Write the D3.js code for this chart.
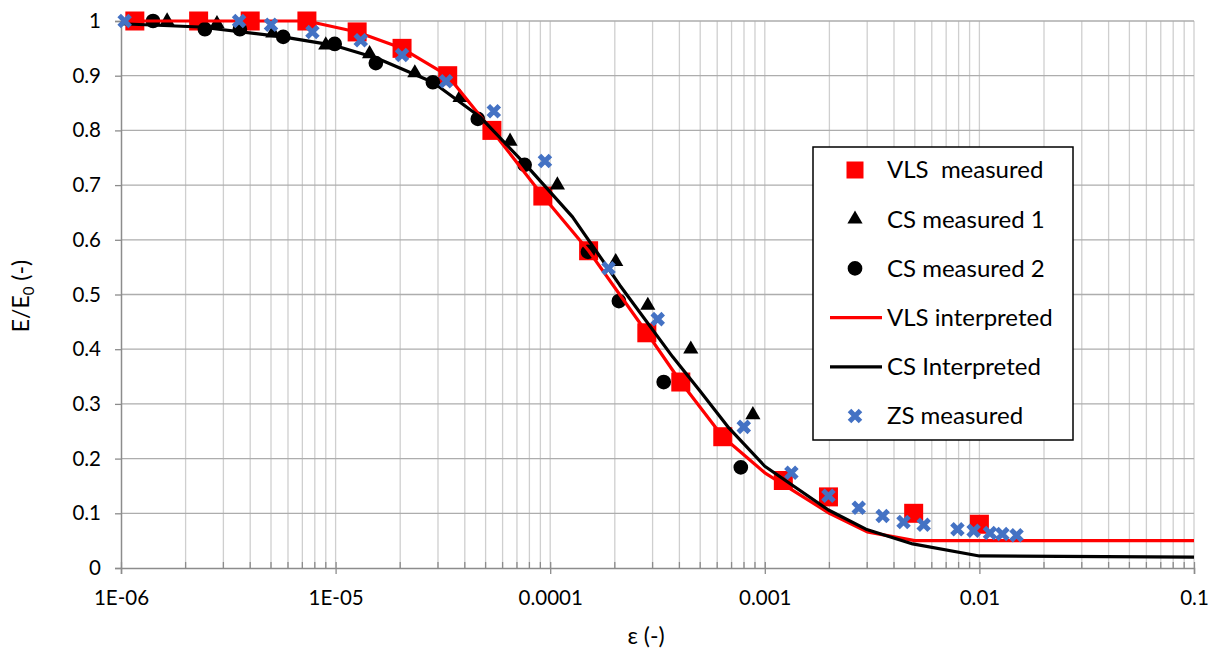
<!DOCTYPE html>
<html>
<head>
<meta charset="utf-8">
<script src="https://cdn.jsdelivr.net/npm/d3@7/dist/d3.min.js"></script>
<style>
  html, body { margin: 0; padding: 0; background: #fff; }
  svg { display: block; font-family: Lato, "Open Sans", sans-serif; }
</style>
</head>
<body>
<svg id="chart" width="1217" height="654"></svg>
<script>
// Stiffness degradation data: E/E0 vs. shear strain
const xTickValues = [1e-6, 1e-5, 1e-4, 1e-3, 1e-2, 1e-1];
const xTickLabels = ["1E-06", "1E-05", "0.0001", "0.001", "0.01", "0.1"];
const yTickValues = [0, 0.1, 0.2, 0.3, 0.4, 0.5, 0.6, 0.7, 0.8, 0.9, 1];
const yTickLabels = ["0", "0.1", "0.2", "0.3", "0.4", "0.5", "0.6", "0.7", "0.8", "0.9", "1"];

const vlsMeasuredX = [1.16e-6, 2.3e-6, 4.0e-6, 7.35e-6, 1.26e-5, 2.04e-5, 3.33e-5, 5.35e-5, 9.24e-5, 1.51e-4, 2.82e-4, 4.06e-4, 6.37e-4, 1.22e-3, 1.98e-3, 4.94e-3, 1.0e-2];
const vlsMeasuredY = [1.0, 1.0, 1.0, 1.0, 0.98, 0.95, 0.90, 0.80, 0.68, 0.58, 0.43, 0.34, 0.24, 0.16, 0.13, 0.10, 0.08];

const cs1X = [1.64e-6, 2.8e-6, 5.1e-6, 9.0e-6, 1.44e-5, 2.34e-5, 3.8e-5, 6.5e-5, 1.08e-4, 2.02e-4, 2.85e-4, 4.52e-4, 8.8e-4];
const cs1Y = [1.0, 0.995, 0.978, 0.956, 0.94, 0.905, 0.86, 0.78, 0.70, 0.56, 0.48, 0.40, 0.28];

const cs2X = [1.41e-6, 2.46e-6, 3.58e-6, 5.7e-6, 9.9e-6, 1.54e-5, 2.84e-5, 4.6e-5, 7.6e-5, 1.5e-4, 2.09e-4, 3.38e-4, 7.73e-4];
const cs2Y = [1.0, 0.985, 0.985, 0.971, 0.958, 0.923, 0.888, 0.821, 0.737, 0.578, 0.488, 0.34, 0.184];

const vlsInterpX = [1e-6, 7.35e-6, 1.26e-5, 2.04e-5, 3.33e-5, 5.35e-5, 9.24e-5, 1.51e-4, 2.82e-4, 4.06e-4, 6.37e-4, 1.0e-3, 2.0e-3, 3.0e-3, 5.0e-3, 0.1];
const vlsInterpY = [1.0, 1.0, 0.98, 0.95, 0.90, 0.80, 0.68, 0.58, 0.43, 0.34, 0.24, 0.174, 0.10, 0.066, 0.05, 0.05];

const csInterpX = [1e-6, 2.33e-6, 5.68e-6, 9.7e-6, 1.56e-5, 2.84e-5, 4.7e-5, 7.7e-5, 1.27e-4, 2.11e-4, 3.72e-4, 4.98e-4, 6.8e-4, 1.0e-3, 1.98e-3, 2.96e-3, 4.89e-3, 1.0e-2, 0.1];
const csInterpY = [0.995, 0.989, 0.971, 0.956, 0.932, 0.888, 0.825, 0.737, 0.642, 0.517, 0.386, 0.324, 0.256, 0.186, 0.106, 0.071, 0.044, 0.022, 0.02];

const zsX = [1.04e-6, 3.55e-6, 5.0e-6, 7.8e-6, 1.31e-5, 2.04e-5, 3.27e-5, 5.46e-5, 9.45e-5, 1.87e-4, 3.17e-4, 7.98e-4, 1.33e-3, 1.98e-3, 2.74e-3, 3.54e-3, 4.43e-3, 5.5e-3, 7.9e-3, 9.4e-3, 1.12e-2, 1.28e-2, 1.49e-2];
const zsY = [1.0, 1.0, 0.993, 0.98, 0.965, 0.938, 0.89, 0.835, 0.744, 0.548, 0.455, 0.258, 0.174, 0.132, 0.11, 0.095, 0.084, 0.079, 0.071, 0.068, 0.064, 0.062, 0.06];

const legendLabels = ["VLS  measured", "CS measured 1", "CS measured 2", "VLS interpreted", "CS Interpreted", "ZS measured"];

const zip = (xs, ys) => xs.map((v, i) => ({ x: v, y: ys[i] }));

const svg = d3.select("#chart");
const plotLeft = 121, plotRight = 1194, plotTop = 21, plotBottom = 568;

const x = d3.scaleLog().domain([1e-6, 0.1]).range([plotLeft, plotRight]);
const y = d3.scaleLinear().domain([0, 1]).range([plotBottom, plotTop]);

// minor vertical grid: every 1..9 x 10^n
const minorX = [];
for (let e = -6; e < -1; e++) for (let k = 1; k <= 9; k++) minorX.push(k * Math.pow(10, e));
minorX.push(0.1);

const grid = svg.append("g");
grid.selectAll("line.v").data(minorX.slice(1)).join("line")
  .attr("x1", d => x(d)).attr("x2", d => x(d))
  .attr("y1", plotTop).attr("y2", plotBottom)
  .attr("stroke", "#cfcfcf").attr("stroke-width", 1.3);
grid.selectAll("line.h").data(yTickValues.slice(1)).join("line")
  .attr("x1", plotLeft).attr("x2", plotRight)
  .attr("y1", d => y(d)).attr("y2", d => y(d))
  .attr("stroke", "#adadad").attr("stroke-width", 1.3);

// axes
const axisColor = "#8c8c8c";
const yAxis = svg.append("g").attr("transform", `translate(${plotLeft},0)`)
  .call(d3.axisLeft(y).tickValues(yTickValues).tickFormat((d, i) => yTickLabels[i]).tickSize(6).tickPadding(14));
const xAxis = svg.append("g").attr("transform", `translate(0,${plotBottom})`)
  .call(d3.axisBottom(x).tickValues(xTickValues).tickFormat((d, i) => xTickLabels[i]).tickSize(6).tickPadding(16));
[yAxis, xAxis].forEach(a => {
  a.select(".domain").attr("stroke", axisColor).attr("stroke-width", 1.5);
  a.selectAll(".tick line").attr("stroke", axisColor).attr("stroke-width", 1.3);
  a.selectAll(".tick text").attr("fill", "#000").style("font-size", "20.5px").style("font-family", "Lato, sans-serif");
});
// major x ticks cross the axis; minor ticks sit inside
xAxis.selectAll(".tick line").attr("y1", -6);
svg.append("g").selectAll("line").data(minorX.filter(d => !xTickValues.some(t => Math.abs(t - d) / t < 1e-9))).join("line")
  .attr("x1", d => x(d)).attr("x2", d => x(d))
  .attr("y1", plotBottom - 6).attr("y2", plotBottom)
  .attr("stroke", axisColor).attr("stroke-width", 1.3);

// axis titles
svg.append("text").attr("x", 646).attr("y", 644)
  .attr("text-anchor", "middle").style("font-size", "23px").text("ε (-)");
const yt = svg.append("text").attr("transform", "translate(29,296) rotate(-90)")
  .attr("text-anchor", "middle").style("font-size", "23px");
yt.append("tspan").text("E/E");
yt.append("tspan").attr("dy", 5).style("font-size", "15px").text("0");
yt.append("tspan").attr("dy", -5).text(" (-)");

// marker shapes
const squareSym = d3.symbol().type(d3.symbolSquare).size(19 * 19);
const triSym = d3.symbol().type(d3.symbolTriangle).size(100);
const circSym = d3.symbol().type(d3.symbolCircle).size(170);
const crossPath = (s) => `M${-s},${-s}L${s},${s}M${-s},${s}L${s},${-s}`;
const blue = "#4472C4";

const plot = svg.append("g");
plot.selectAll("path.sq").data(zip(vlsMeasuredX, vlsMeasuredY)).join("path")
  .attr("transform", d => `translate(${x(d.x)},${y(d.y)})`).attr("d", squareSym).attr("fill", "#ff0000");
plot.selectAll("path.tri").data(zip(cs1X, cs1Y)).join("path")
  .attr("transform", d => `translate(${x(d.x)},${y(d.y)})`).attr("d", triSym).attr("fill", "#000");
plot.selectAll("path.ci").data(zip(cs2X, cs2Y)).join("path")
  .attr("transform", d => `translate(${x(d.x)},${y(d.y)})`).attr("d", circSym).attr("fill", "#000");

const line = d3.line().x(d => x(d.x)).y(d => y(d.y));
plot.append("path").datum(zip(vlsInterpX, vlsInterpY)).attr("d", line)
  .attr("fill", "none").attr("stroke", "#ff0000").attr("stroke-width", 3.2).attr("stroke-linejoin", "round");
plot.append("path").datum(zip(csInterpX, csInterpY)).attr("d", line)
  .attr("fill", "none").attr("stroke", "#000").attr("stroke-width", 3.2).attr("stroke-linejoin", "round");

plot.selectAll("path.zs").data(zip(zsX, zsY)).join("path")
  .attr("transform", d => `translate(${x(d.x)},${y(d.y)})`).attr("d", crossPath(5.5))
  .attr("fill", "none").attr("stroke", blue).attr("stroke-width", 5);

// legend
const lg = svg.append("g");
lg.append("rect").attr("x", 813).attr("y", 147).attr("width", 260).attr("height", 293)
  .attr("fill", "#fff").attr("stroke", "#000").attr("stroke-width", 1.5);
const rowY = i => 170 + i * 49.2;
const symX = 855;
lg.append("path").attr("transform", `translate(${symX},${rowY(0)})`).attr("d", d3.symbol().type(d3.symbolSquare).size(17 * 17)).attr("fill", "#ff0000");
lg.append("path").attr("transform", `translate(${symX},${rowY(1)})`).attr("d", triSym).attr("fill", "#000");
lg.append("path").attr("transform", `translate(${symX},${rowY(2)})`).attr("d", circSym).attr("fill", "#000");
lg.append("line").attr("x1", 830).attr("x2", 882).attr("y1", rowY(3)).attr("y2", rowY(3)).attr("stroke", "#ff0000").attr("stroke-width", 3.2);
lg.append("line").attr("x1", 830).attr("x2", 882).attr("y1", rowY(4)).attr("y2", rowY(4)).attr("stroke", "#000").attr("stroke-width", 3.2);
lg.append("path").attr("transform", `translate(${symX},${rowY(5)})`).attr("d", crossPath(5.5))
  .attr("fill", "none").attr("stroke", blue).attr("stroke-width", 5);
lg.selectAll("text").data(legendLabels).join("text")
  .attr("x", 887).attr("y", (d, i) => rowY(i)).attr("dy", "0.35em")
  .style("font-size", "24px").style("white-space", "pre").attr("xml:space", "preserve").text(d => d);
</script>
</body>
</html>
